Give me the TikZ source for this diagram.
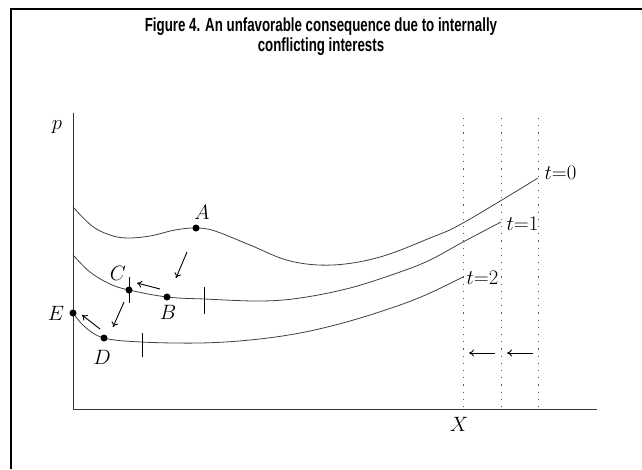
\documentclass[tikz,border=0pt]{standalone}
\usepackage{fontspec}
\newfontfamily\titlefont[FakeStretch=0.7]{Liberation Sans}
\usetikzlibrary{arrows.meta}
\newcommand\osfig[1]{{\usefont{OML}{cmm}{m}{it}#1}}

\tikzset{
  curve/.style={line width=0.8pt, black!75},
  marker/.style={circle, fill=black, inner sep=0pt, minimum size=7pt},
  tick/.style={line width=0.8pt},
  guide/.style={line width=1pt, black!65, dash pattern=on 1.2pt off 6pt},
  move/.style={-{To[length=5pt, width=7pt]}, line width=0.9pt},
  lab/.style={font=\fontsize{20}{24}\selectfont}
}

\begin{document}
\begin{tikzpicture}[x=1pt, y=-1pt]
    \useasboundingbox (0,0) rectangle (642,469);

    % Frame and title
    \draw[line width=2pt] (11,469) -- (11,9) -- (642,9);
    \node[font=\titlefont\bfseries\fontsize{19}{20}\selectfont, align=center] (title) at (321,37)
        {Figure 4. An unfavorable consequence due to internally\\conflicting interests};

    % Define the points of the axes
    \coordinate (O) at (73,409);
    \coordinate (Ptop) at (73,113);
    \coordinate (Xend) at (597,409);

    % Draw the axes
    \draw[line width=0.8pt, black!80] (Ptop) -- (O) -- (Xend);
    \node[lab] (plab) at (57,127) {$p$};
    \node[lab] (xlab) at (459,424) {$X$};

    % Draw the dotted boundaries
    \foreach \gx/\gn in {463/g2, 501/g1, 538/g0} {
        \coordinate (\gn top) at (\gx,118);
        \coordinate (\gn bot) at (\gx,409);
        \draw[guide] (\gn top) -- (\gn bot);
    }

    % Define the points on the curves
    \coordinate (A) at (196,228);
    \coordinate (C) at (129,290);
    \coordinate (B) at (167,297);
    \coordinate (E) at (73,313);
    \coordinate (D) at (104,338);
    \coordinate (T0) at (538,178);
    \coordinate (T1) at (501,222);
    \coordinate (T2) at (463,277);

    % Draw the curves
    \draw[curve] plot[smooth, tension=0.6] coordinates {(73,207) (92,226) (110,235) (127,238) (150,236) (175,230)
        (A) (215,231) (250,245) (290,261) (333,265) (380,257) (430,238) (463,223) (T0)};
    \draw[curve] plot[smooth, tension=0.6] coordinates {(73,255) (90,272) (110,284)
        (C) (B) (204,299) (260,301) (300,298) (350,288) (400,272) (430,260) (463,242) (T1)};
    \draw[curve] plot[smooth, tension=0.6] coordinates {(E) (85,327)
        (D) (141,342) (200,343) (250,340) (300,333) (350,321) (400,305) (430,293) (T2)};

    % Labels for the curves
    \node[lab, anchor=west] (t0) at (541,173) {$t{=}\osfig{0}$};
    \node[lab, anchor=west] (t1) at (503,224) {$t{=}\osfig{1}$};
    \node[lab, anchor=west] (t2) at (463,278) {$t{=}\osfig{2}$};

    % Draw the short marks
    \draw[tick] (129,277) -- (129,303);
    \draw[tick] (204,287) -- (204,314);
    \draw[tick] (142,333) -- (142,357);

    % Draw the points
    \foreach \pt in {A, B, C, D, E} {
        \node[marker] at (\pt) {};
    }
    \node[lab] (Alab) at (202,212) {$A$};
    \node[lab] (Blab) at (168,312) {$B$};
    \node[lab] (Clab) at (118,273) {$C$};
    \node[lab] (Dlab) at (102,357) {$D$};
    \node[lab] (Elab) at (56,313) {$E$};

    % Draw the moves
    \coordinate (a1) at (187,252);
    \coordinate (a2) at (176,278);
    \coordinate (b1) at (160,289);
    \coordinate (b2) at (137,283);
    \coordinate (c1) at (124,302);
    \coordinate (c2) at (113,327);
    \coordinate (d1) at (100,329);
    \coordinate (d2) at (82,315);
    \draw[move] (a1) -- (a2);
    \draw[move] (b1) -- (b2);
    \draw[move] (c1) -- (c2);
    \draw[move] (d1) -- (d2);

    \coordinate (s1) at (495,353);
    \coordinate (s2) at (469,353);
    \coordinate (s3) at (533,353);
    \coordinate (s4) at (507,353);
    \draw[move] (s1) -- (s2);
    \draw[move] (s3) -- (s4);
\end{tikzpicture}
\end{document}
